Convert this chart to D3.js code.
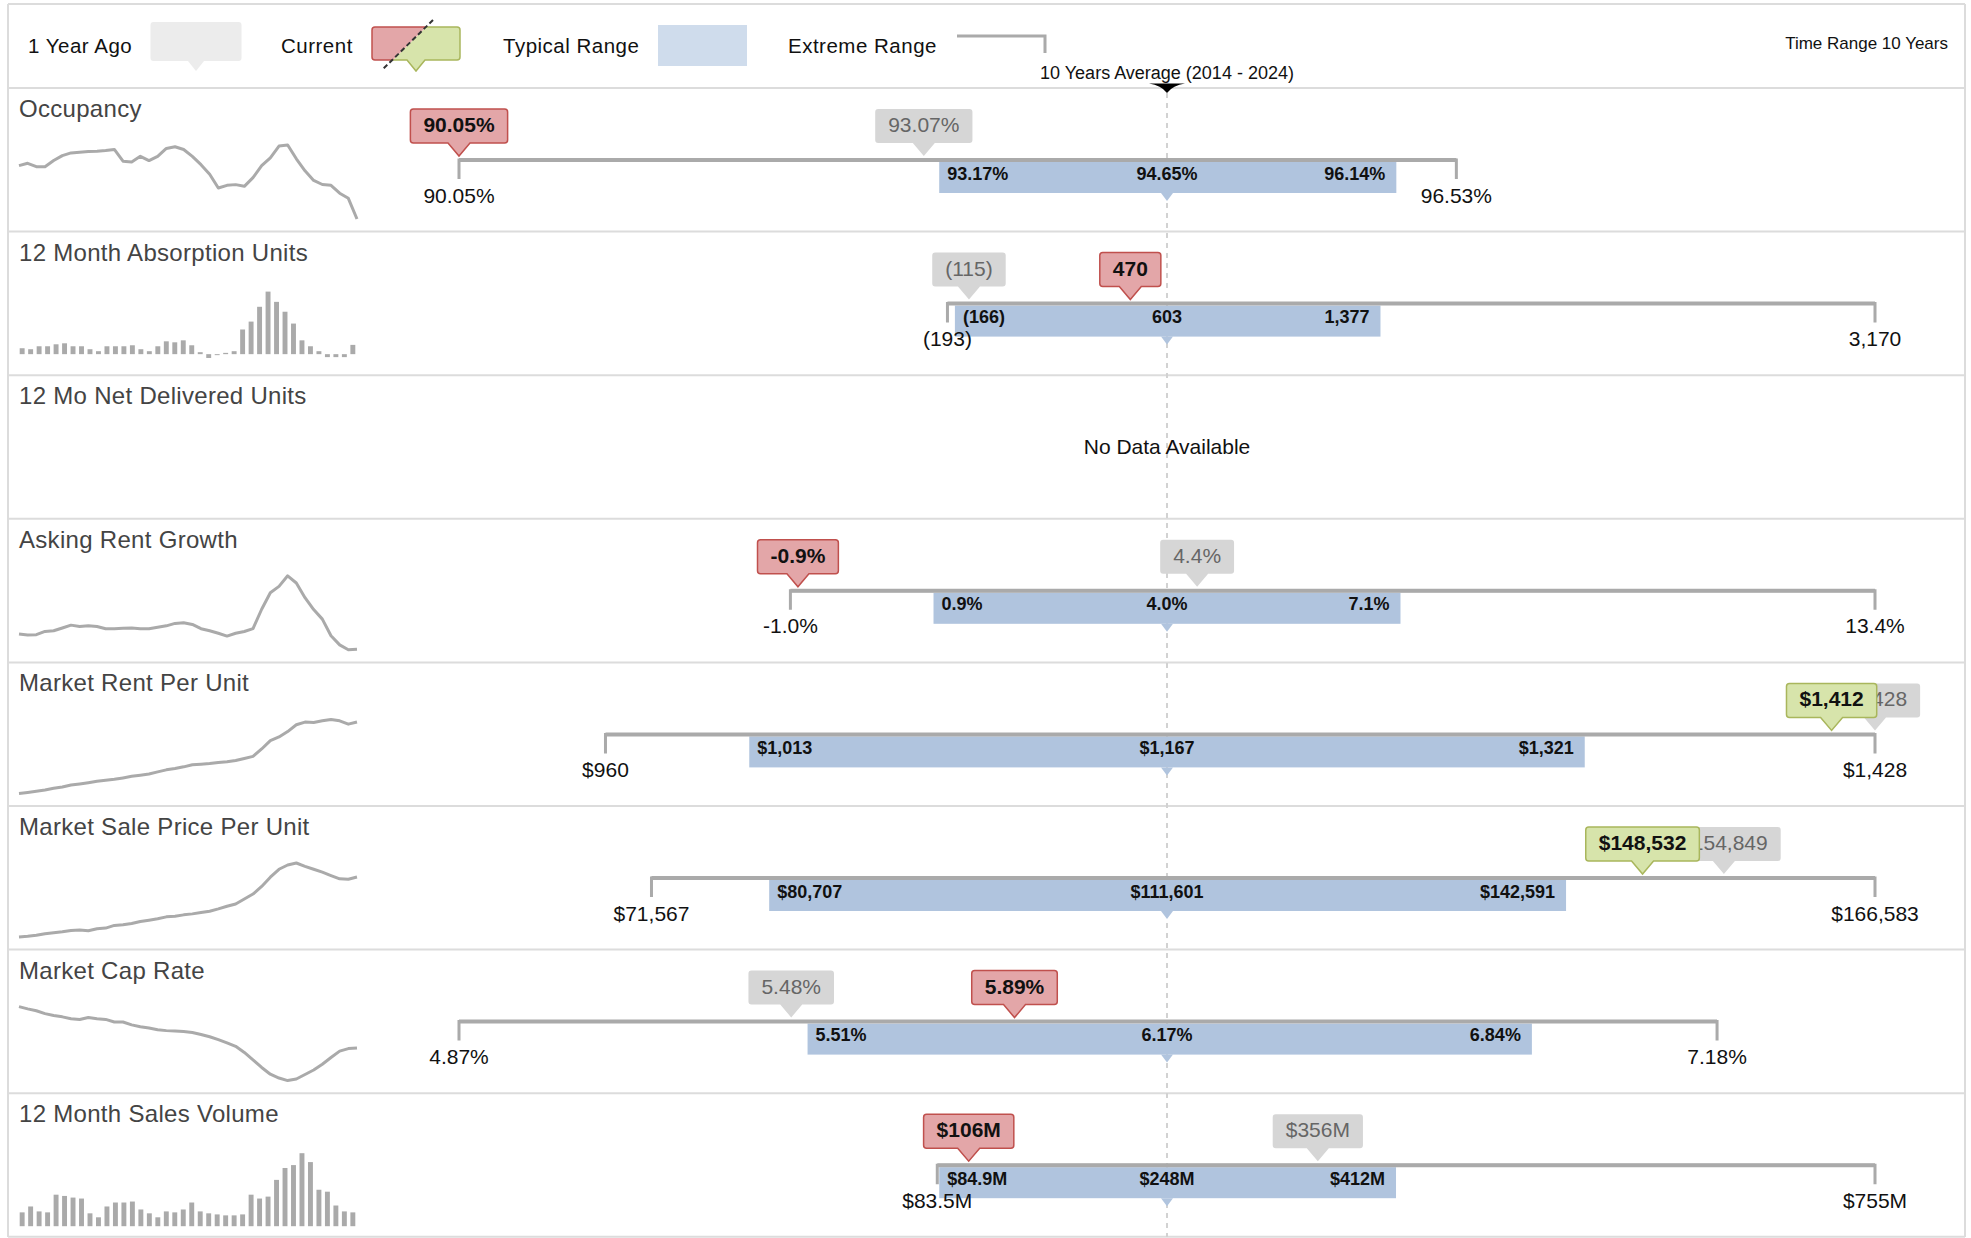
<!DOCTYPE html>
<html><head><meta charset="utf-8">
<script src="https://cdn.jsdelivr.net/npm/d3@7"></script>
<style>
html,body{margin:0;padding:0;background:#fff;}
svg{display:block;font-family:"Liberation Sans",Arial,Helvetica,sans-serif;}
</style></head><body>
<svg id="chart" width="1971" height="1238"></svg>
<script>
// ---------------- DATA ----------------
const metrics = ["Occupancy","12 Month Absorption Units","12 Mo Net Delivered Units","Asking Rent Growth","Market Rent Per Unit","Market Sale Price Per Unit","Market Cap Rate","12 Month Sales Volume"];
const extremeMin = [90.05, -193, null, -1.0, 960, 71567, 4.87, 83.5];
const typicalMin = [93.17, -166, null, 0.9, 1013, 80707, 5.51, 84.9];
const average10y = [94.65, 603, null, 4.0, 1167, 111601, 6.17, 248];
const typicalMax = [96.14, 1377, null, 7.1, 1321, 142591, 6.84, 412];
const extremeMax = [96.53, 3170, null, 13.4, 1428, 166583, 7.18, 755];
const currentValue = [90.05, 470, null, -0.9, 1412, 148532, 5.89, 106];
const yearAgoValue = [93.07, -115, null, 4.4, 1428, 154849, 5.48, 356];
const valueFormats = ["pct2","units",null,"pct1","usd","usd","pct2","usdM"];
const sparkTypes = ["line","bar",null,"line","line","line","line","bar"];

const occupancyHistory = [94.72,94.93,94.63,94.63,95.17,95.60,95.84,95.90,95.96,95.99,96.05,96.14,95.11,95.05,95.54,95.17,95.54,96.23,96.38,96.14,95.54,94.81,93.97,92.76,93.00,93.06,92.91,93.67,94.72,95.41,96.44,96.53,95.32,94.27,93.43,93.07,93.00,92.31,91.86,90.05];
const absorptionHistory = [300,250,400,400,500,550,400,400,250,150,400,400,400,450,250,150,400,650,600,700,450,100,-193,-50,65,150,1250,1650,2400,3170,2650,2150,1550,700,400,150,-150,-150,-150,470];
const askingRentHistory = [2.09,1.88,1.95,2.57,2.70,3.25,3.80,3.53,3.66,3.53,3.11,3.11,3.18,3.25,3.11,3.11,3.39,3.66,4.14,4.28,3.94,3.11,2.70,2.22,1.67,2.22,2.57,3.11,6.89,10.11,11.34,13.4,12.0,9.15,6.82,4.97,1.74,-0.04,-1.0,-0.9];
const marketRentHistory = [960,966,973,981,992,1000,1013,1020,1028,1037,1043,1049,1058,1068,1075,1083,1096,1109,1117,1128,1141,1145,1149,1156,1160,1168,1181,1194,1241,1294,1317,1351,1394,1411,1409,1419,1428,1419,1398,1412];
const salePriceHistory = [71567,72415,73688,75809,77082,78354,80051,80475,79627,82172,83020,86414,87262,88959,91504,93201,94898,97443,98292,99988,101261,102958,104655,107624,111018,113987,120350,126713,136470,148347,158528,164043,166583,162346,158528,154849,150468,146226,145802,148532];
const capRateHistory = [7.18,7.11,7.05,6.96,6.90,6.86,6.80,6.78,6.84,6.80,6.78,6.70,6.70,6.61,6.55,6.51,6.46,6.43,6.42,6.40,6.37,6.31,6.24,6.15,6.05,5.94,5.75,5.52,5.28,5.07,4.95,4.87,4.92,5.06,5.20,5.38,5.59,5.79,5.87,5.89];
const salesVolumeHistory = [143,204,153,143,326,313,296,286,133,92,204,245,245,255,173,133,92,153,143,173,245,153,133,122,112,112,122,326,286,306,479,602,632,755,663,377,357,214,153,143];
const histories = [occupancyHistory, absorptionHistory, null, askingRentHistory, marketRentHistory, salePriceHistory, capRateHistory, salesVolumeHistory];

const legendLabels = ["1 Year Ago","Current","Typical Range","Extreme Range"];
const averageLabel = "10 Years Average (2014 - 2024)";
const timeRangeLabel = "Time Range 10 Years";
const noDataLabel = "No Data Available";

// ---------------- LAYOUT ----------------
const W = 1971, H = 1238;
const ROW_TOP = 88, ROW_H = 143.6;
const CX = 1167, HALF = 708;
const FRAME = "#dcdcdc";
const GREY = "#aaaaaa";
const BLUE = "#b0c4de";

const svg = d3.select("#chart");
const locale = d3.formatLocale({decimal:".", thousands:",", grouping:[3], currency:["$",""], minus:"-"});
const f2 = locale.format(".2f"), f1 = locale.format(".1f"), fc = locale.format(","), f0 = locale.format(".0f");
const formatters = {
  pct2: v => f2(v) + "%",
  pct1: v => f1(v) + "%",
  units: v => v < 0 ? "(" + fc(-v) + ")" : fc(v),
  usd: v => "$" + fc(v),
  usdM: v => "$" + (Math.abs(v) >= 100 ? f0(v) : f1(v)) + "M"
};

function calloutPath(cx, tipY, w, h, r, tw, th) {
  const x0 = cx - w/2, x1 = cx + w/2, y1 = tipY - th, y0 = y1 - h;
  return `M${x0+r},${y0} H${x1-r} Q${x1},${y0} ${x1},${y0+r} V${y1-r} Q${x1},${y1} ${x1-r},${y1} H${cx+tw/2} L${cx},${tipY} L${cx-tw/2},${y1} H${x0+r} Q${x0},${y1} ${x0},${y1-r} V${y0+r} Q${x0},${y0} ${x0+r},${y0} Z`;
}

// ---------------- FRAME ----------------
const frame = svg.append("g");
frame.append("line").attr("x1",8).attr("x2",1965).attr("y1",4).attr("y2",4).attr("stroke",FRAME).attr("stroke-width",2);
frame.append("line").attr("x1",8).attr("x2",8).attr("y1",4).attr("y2",1237).attr("stroke",FRAME).attr("stroke-width",2);
frame.append("line").attr("x1",1965).attr("x2",1965).attr("y1",4).attr("y2",1237).attr("stroke",FRAME).attr("stroke-width",2);
frame.append("line").attr("x1",8).attr("x2",1965).attr("y1",ROW_TOP).attr("y2",ROW_TOP).attr("stroke",FRAME).attr("stroke-width",2);
metrics.forEach((m,i) => {
  const y = ROW_TOP + (i+1)*ROW_H;
  frame.append("line").attr("x1",8).attr("x2",1965).attr("y1",y).attr("y2",y).attr("stroke",FRAME).attr("stroke-width",2);
});

// ---------------- LEGEND ----------------
const lg = svg.append("g").attr("font-size",20.5).attr("fill","#111").attr("letter-spacing",0.5);
lg.append("text").attr("x",28).attr("y",53).text(legendLabels[0]);
lg.append("path").attr("d",calloutPath(196,71,91,39,3,16,10)).attr("fill","#ececec");
lg.append("text").attr("x",281).attr("y",53).text(legendLabels[1]);
const defs = svg.append("defs");
defs.append("clipPath").attr("id","clipRed").append("polygon").attr("points","360,10 436,10 436,17 383,70 360,70");
defs.append("clipPath").attr("id","clipGreen").append("polygon").attr("points","436,10 480,10 480,80 370,80 383,70 436,17");
const curPath = calloutPath(416,71,88,33,3,18,11);
lg.append("path").attr("d",curPath).attr("fill","#d7e4ab").attr("stroke","#a9b65c").attr("stroke-width",1.5).attr("clip-path","url(#clipGreen)");
lg.append("path").attr("d",curPath).attr("fill","#e3a6a8").attr("stroke","#c0504d").attr("stroke-width",1.5).attr("clip-path","url(#clipRed)");
lg.append("line").attr("x1",433).attr("y1",20).attr("x2",382).attr("y2",70).attr("stroke","#333").attr("stroke-width",2).attr("stroke-dasharray","5,3");
lg.append("text").attr("x",503).attr("y",53).text(legendLabels[2]);
lg.append("rect").attr("x",658).attr("y",25).attr("width",89).attr("height",41).attr("fill","#cfdcec");
lg.append("text").attr("x",788).attr("y",53).text(legendLabels[3]);
lg.append("path").attr("d","M957,36 H1045 V53").attr("fill","none").attr("stroke",GREY).attr("stroke-width",3);
svg.append("text").attr("x",1948).attr("y",49).attr("text-anchor","end").attr("font-size",17).attr("fill","#111").text(timeRangeLabel);
svg.append("text").attr("x",CX).attr("y",79).attr("text-anchor","middle").attr("font-size",18).attr("fill","#111").text(averageLabel);

// average dashed line + marker
svg.append("line").attr("x1",CX).attr("x2",CX).attr("y1",93).attr("y2",1237)
  .attr("stroke","#d2d2d2").attr("stroke-width",2).attr("stroke-dasharray","5,5");
svg.append("path").attr("d",`M${CX-18},83.5 Q${CX-6},85 ${CX},93 Q${CX+6},85 ${CX+18},83.5 Z`).attr("fill","#000");

// ---------------- ROWS ----------------
metrics.forEach((name, i) => {
  const top = ROW_TOP + i*ROW_H;
  const g = svg.append("g").attr("transform",`translate(0,${top})`);
  g.append("text").attr("x",19).attr("y",29).attr("font-size",24).attr("letter-spacing",0.3).attr("fill","#444").text(name);

  if (extremeMin[i] === null) {
    g.append("text").attr("x",CX).attr("y",79).attr("text-anchor","middle").attr("font-size",21).attr("fill","#111").text(noDataLabel);
    return;
  }
  const fmt = formatters[valueFormats[i]];

  // sparkline
  const hist = histories[i];
  if (sparkTypes[i] === "line") {
    const sx = d3.scaleLinear().domain([0, hist.length-1]).range([19,357]);
    const sy = d3.scaleLinear().domain(d3.extent(hist)).range([131,57]);
    g.append("path").datum(hist).attr("fill","none").attr("stroke",GREY).attr("stroke-width",3).attr("stroke-linejoin","round")
      .attr("d", d3.line().x((d,k)=>sx(k)).y(d=>sy(d)));
  } else {
    const lo = d3.min(hist), hi = d3.max(hist);
    const bottom = lo < 0 ? lo - 0.1*(hi-lo) : 0;
    const sx = d3.scaleBand().domain(d3.range(hist.length)).range([18,357]).paddingInner(0.42).paddingOuter(0.2);
    const sy = d3.scaleLinear().domain([bottom, hi]).range([133,60]);
    g.selectAll("rect.spark").data(hist).enter().append("rect").attr("class","spark")
      .attr("x",(d,k)=>sx(k)).attr("width",sx.bandwidth())
      .attr("y",d=>Math.min(sy(d),sy(0))).attr("height",d=>Math.abs(sy(d)-sy(0)))
      .attr("fill",GREY);
  }

  // range scale: average centred, widest side fills half-width
  const avg = average10y[i];
  const M = Math.max(avg - extremeMin[i], extremeMax[i] - avg);
  const x = d3.scaleLinear().domain([avg - M, avg + M]).range([CX - HALF, CX + HALF]);

  // typical range bar
  g.append("rect").attr("x",x(typicalMin[i])).attr("y",74).attr("width",x(typicalMax[i])-x(typicalMin[i])).attr("height",31).attr("fill",BLUE);
  g.append("path").attr("d",`M${x(avg)-6},105 L${x(avg)+6},105 L${x(avg)},113 Z`).attr("fill",BLUE);

  // extreme bracket
  g.append("path").attr("d",`M${x(extremeMin[i])},91 V72 H${x(extremeMax[i])} V91`).attr("fill","none").attr("stroke",GREY).attr("stroke-width",3);
  g.append("line").attr("x1",x(extremeMin[i])).attr("x2",x(extremeMax[i])).attr("y1",72).attr("y2",72).attr("stroke",GREY).attr("stroke-width",4);

  // bar labels
  const bl = g.append("g").attr("font-size",18).attr("font-weight","bold").attr("fill","#111");
  bl.append("text").attr("x",x(typicalMin[i])+8).attr("y",91.5).text(fmt(typicalMin[i]));
  bl.append("text").attr("x",x(avg)).attr("y",91.5).attr("text-anchor","middle").text(fmt(avg));
  bl.append("text").attr("x",x(typicalMax[i])-11).attr("y",91.5).attr("text-anchor","end").text(fmt(typicalMax[i]));

  // extreme labels
  const el = g.append("g").attr("font-size",21).attr("fill","#111").attr("text-anchor","middle");
  el.append("text").attr("x",x(extremeMin[i])).attr("y",114.5).text(fmt(extremeMin[i]));
  el.append("text").attr("x",x(extremeMax[i])).attr("y",114.5).text(fmt(extremeMax[i]));

  // callouts
  function callout(v, style) {
    const cg = g.append("g");
    const p = cg.append("path");
    const t = cg.append("text").attr("x",x(v)).attr("y",44).attr("text-anchor","middle").attr("font-size",21).text(fmt(v));
    if (style === "grey") { t.attr("fill","#666"); p.attr("fill","#d6d6d6"); }
    else if (style === "red") { t.attr("fill","#111").attr("font-weight","bold"); p.attr("fill","#e3a6a8").attr("stroke","#c0504d").attr("stroke-width",1.5); }
    else { t.attr("fill","#111").attr("font-weight","bold"); p.attr("fill","#d7e4ab").attr("stroke","#a9b65c").attr("stroke-width",1.5); }
    const w = t.node().getComputedTextLength() + 26;
    p.attr("d", calloutPath(x(v), 68, w, 34, 3, 22, 13));
  }
  callout(yearAgoValue[i], "grey");
  callout(currentValue[i], currentValue[i] >= avg ? "green" : "red");
});
</script>
</body></html>
